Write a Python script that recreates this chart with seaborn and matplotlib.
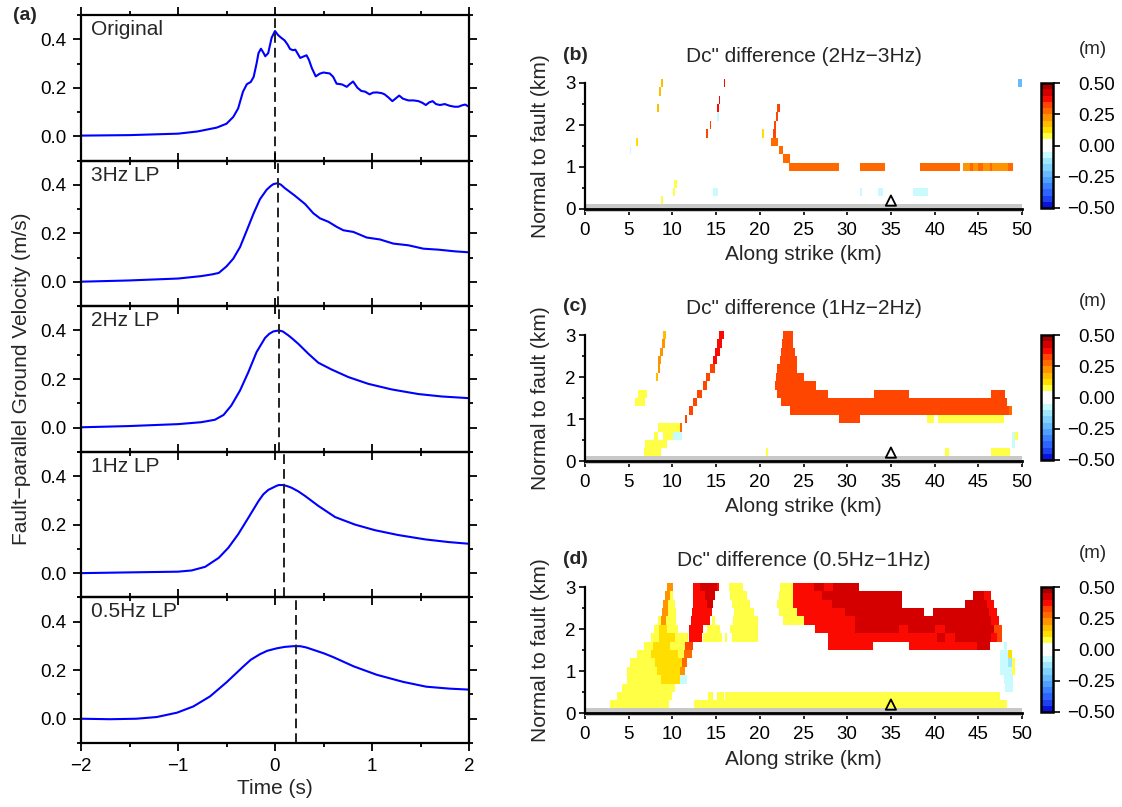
import numpy as np
import matplotlib
matplotlib.use('Agg')
import matplotlib.pyplot as plt
import seaborn as sns
from matplotlib.colors import ListedColormap, BoundaryNorm
from matplotlib.ticker import MultipleLocator, FixedLocator, FuncFormatter
import matplotlib.cm as cm

# ------------------------------------------------------------------ data
# (a) fault-parallel ground velocity traces (time s, velocity m/s)
t_orig = [-2.0, -1.5, -1.0, -0.8, -0.6, -0.5, -0.43, -0.38, -0.33, -0.29, -0.25, -0.22, -0.19,
          -0.17, -0.145, -0.12, -0.10, -0.07, -0.035, 0.0, 0.03, 0.055, 0.10, 0.13, 0.155, 0.185,
          0.21, 0.235, 0.26, 0.30, 0.325, 0.35, 0.38, 0.42, 0.46, 0.50, 0.565, 0.60, 0.635, 0.69,
          0.74, 0.77, 0.805, 0.85, 0.89, 0.93, 0.975, 1.01, 1.05, 1.10, 1.13, 1.17, 1.21, 1.25,
          1.28, 1.32, 1.375, 1.43, 1.48, 1.52, 1.555, 1.59, 1.625, 1.66, 1.70, 1.75, 1.80, 1.85,
          1.89, 1.93, 1.96, 2.0]
v_orig = [0.003, 0.005, 0.011, 0.020, 0.036, 0.052, 0.080, 0.115, 0.184, 0.215, 0.224, 0.245, 0.300,
          0.343, 0.361, 0.345, 0.330, 0.343, 0.406, 0.434, 0.418, 0.409, 0.395, 0.378, 0.360, 0.355,
          0.357, 0.340, 0.323, 0.330, 0.334, 0.315, 0.281, 0.247, 0.258, 0.263, 0.259, 0.245, 0.217, 0.214,
          0.204, 0.215, 0.226, 0.200, 0.187, 0.184, 0.173, 0.180, 0.181, 0.178, 0.173, 0.160, 0.145, 0.158,
          0.168, 0.155, 0.148, 0.148, 0.145, 0.138, 0.129, 0.140, 0.145, 0.133, 0.129, 0.133, 0.126, 0.122,
          0.122, 0.128, 0.131, 0.122]
t_3hz = [-2.0, -1.51, -1.0, -0.76, -0.65, -0.58, -0.5, -0.43, -0.36, -0.29, -0.22, -0.155, -0.086,
         -0.045, -0.017, 0.027, 0.06, 0.103, 0.15, 0.206, 0.31, 0.395, 0.464, 0.55, 0.636, 0.704,
         0.808, 0.945, 1.082, 1.22, 1.375, 1.53, 1.684, 1.856, 2.0]
v_3hz = [0.001, 0.006, 0.014, 0.024, 0.031, 0.037, 0.064, 0.096, 0.144, 0.213, 0.283, 0.341, 0.380,
         0.395, 0.403, 0.407, 0.401, 0.386, 0.372, 0.355, 0.321, 0.283, 0.262, 0.248, 0.227, 0.213,
         0.206, 0.183, 0.175, 0.158, 0.151, 0.137, 0.133, 0.126, 0.122]
t_2hz = [-2.0, -1.51, -1.0, -0.76, -0.62, -0.53, -0.45, -0.36, -0.275, -0.19, -0.103, -0.06, -0.017,
         0.04, 0.08, 0.137, 0.18, 0.24, 0.344, 0.447, 0.584, 0.756, 0.962, 1.203, 1.478, 1.718, 2.0]
v_2hz = [0.001, 0.006, 0.014, 0.022, 0.032, 0.052, 0.091, 0.153, 0.228, 0.311, 0.369, 0.386, 0.396,
         0.400, 0.396, 0.380, 0.366, 0.345, 0.304, 0.267, 0.239, 0.208, 0.180, 0.157, 0.138, 0.128, 0.121]
t_1hz = [-2.0, -1.51, -1.0, -0.86, -0.72, -0.58, -0.48, -0.38, -0.275, -0.17, -0.12, -0.069, 0.017,
         0.04, 0.086, 0.13, 0.17, 0.24, 0.31, 0.447, 0.62, 0.825, 1.03, 1.27, 1.55, 1.79, 2.0]
v_1hz = [0.0, 0.003, 0.006, 0.011, 0.026, 0.063, 0.105, 0.160, 0.228, 0.297, 0.325, 0.343, 0.360,
         0.363, 0.363, 0.358, 0.352, 0.337, 0.318, 0.277, 0.231, 0.200, 0.177, 0.157, 0.139, 0.128, 0.121]
t_05hz = [-2.0, -1.7, -1.43, -1.22, -1.01, -0.84, -0.67, -0.5, -0.33, -0.25, -0.155, -0.08, 0.017,
          0.10, 0.189, 0.258, 0.32, 0.395, 0.5, 0.6, 0.81, 1.05, 1.32, 1.56, 1.80, 2.0]
v_05hz = [0.0, -0.002, 0.0, 0.007, 0.025, 0.051, 0.092, 0.150, 0.214, 0.243, 0.266, 0.280, 0.290,
          0.296, 0.299, 0.299, 0.294, 0.284, 0.270, 0.254, 0.216, 0.181, 0.152, 0.132, 0.124, 0.120]
trace_names = ["Original", "3Hz LP", "2Hz LP", "1Hz LP", "0.5Hz LP"]
peak_times = [0.0, 0.028, 0.041, 0.096, 0.216]

# Dc'' difference maps: runs of constant value on rows of 0.2 km
# (row centre km, along-strike start km, end km, value m)
Y1, Y2, O1, O2, O3 = 0.07, 0.12, 0.17, 0.22, 0.27
R1, R2, R3 = 0.32, 0.37, 0.42
C1, C2, C3 = -0.07, -0.12, -0.22

runs_b = [
    (3.0, 8.7, 8.9, O1), (3.0, 15.85, 16.05, R2), (3.0, 49.5, 50.0, C3),
    (2.8, 8.5, 8.7, O1), (2.6, 15.3, 15.5, R2),
    (2.4, 8.25, 8.45, O1), (2.4, 15.1, 15.3, R2), (2.4, 22.0, 22.3, R1),
    (2.2, 15.1, 15.3, C1), (2.2, 21.8, 22.05, R1),
    (2.0, 14.25, 14.45, R1), (2.0, 21.6, 21.85, R1),
    (1.8, 13.85, 14.05, R1), (1.8, 20.3, 20.5, Y2), (1.8, 21.5, 21.8, R1),
    (1.6, 5.85, 6.05, Y2), (1.6, 21.25, 22.1, O3),
    (1.4, 5.1, 5.25, C1), (1.4, 22.15, 22.7, O3),
    (1.2, 22.7, 23.5, O3),
    (1.0, 23.3, 29.1, O3), (1.0, 31.5, 34.35, O3), (1.0, 38.3, 42.9, O3),
    (1.0, 43.2, 44.0, O2), (1.0, 44.0, 44.4, O3), (1.0, 44.4, 45.0, O2),
    (1.0, 45.0, 45.5, O3), (1.0, 45.5, 46.3, O2), (1.0, 46.3, 46.6, O3),
    (1.0, 46.6, 48.4, O2), (1.0, 48.4, 48.95, O3),
    (0.6, 10.2, 10.5, Y1),
    (0.4, 10.05, 10.3, Y1), (0.4, 14.65, 15.25, C1), (0.4, 31.45, 31.7, C1),
    (0.4, 33.5, 34.1, C1), (0.4, 37.5, 39.3, C1),
    (0.2, 8.7, 8.9, Y1),
]

runs_c = [
    (3.0, 8.9, 9.3, O1), (2.8, 8.8, 9.1, O2), (2.6, 8.6, 8.9, O2),
    (2.4, 8.4, 8.7, O2), (2.2, 8.3, 8.6, O2), (2.0, 8.1, 8.3, O1),
    (1.6, 6.1, 7.05, Y1), (1.4, 5.7, 6.9, Y1),
    (3.0, 15.35, 15.85, R2), (2.8, 15.15, 15.65, R2), (2.6, 14.9, 15.4, R2),
    (2.4, 14.6, 15.1, R2), (2.2, 14.25, 14.9, R1), (2.0, 13.85, 14.3, R1),
    (1.8, 13.45, 13.95, R1), (1.6, 12.85, 13.4, R1), (1.4, 12.3, 12.8, R1),
    (1.2, 11.85, 12.3, R1), (1.0, 11.45, 11.65, R1),
    (0.8, 8.4, 10.9, Y1), (0.8, 10.9, 11.1, O3),
    (0.6, 7.9, 8.3, Y1), (0.6, 8.95, 10.05, Y1), (0.6, 10.05, 11.05, C1),
    (0.4, 6.9, 9.4, Y1), (0.2, 6.7, 8.65, Y1), (0.2, 20.7, 20.9, Y1),
    (3.0, 22.7, 23.85, R1), (2.8, 22.5, 23.85, R1), (2.6, 22.4, 24.0, R1),
    (2.4, 22.3, 24.25, R1), (2.2, 21.95, 24.25, R1), (2.0, 21.9, 25.1, R1),
    (1.8, 21.7, 26.45, R1), (1.6, 21.95, 27.8, R1), (1.6, 33.1, 37.1, R1),
    (1.6, 46.4, 48.1, R1), (1.4, 22.4, 48.3, R1), (1.2, 23.5, 48.5, R1),
    (1.2, 48.5, 48.8, O3), (1.0, 29.1, 31.5, R1),
    (1.0, 39.1, 39.9, Y1), (1.0, 40.35, 47.9, Y1),
    (0.6, 48.8, 49.25, C1), (0.6, 49.25, 49.5, Y1), (0.4, 48.8, 49.25, C1),
    (0.2, 41.15, 41.7, Y1), (0.2, 46.4, 48.65, Y1),
]

runs_d = [
    # left triangle
    (0.2, 2.85, 9.65, Y1), (0.4, 3.7, 9.9, Y1), (0.6, 4.2, 10.3, Y1),
    (0.8, 4.75, 8.7, Y1), (0.8, 8.7, 10.9, Y2), (0.8, 10.9, 11.65, C1),
    (1.0, 4.75, 8.2, Y1), (1.0, 8.2, 10.9, Y2), (1.0, 10.9, 11.45, O2),
    (1.2, 5.15, 8.0, Y1), (1.2, 8.0, 11.05, Y2), (1.2, 11.05, 11.65, O3),
    (1.4, 5.9, 7.6, Y1), (1.4, 7.6, 10.6, Y2), (1.4, 10.6, 11.3, Y1), (1.4, 11.3, 12.2, O3),
    (1.6, 6.7, 7.8, Y1), (1.6, 7.8, 9.75, Y2), (1.6, 9.75, 11.45, Y1), (1.6, 11.45, 12.4, R1),
    (1.8, 7.6, 8.5, Y1), (1.8, 8.5, 10.3, Y2), (1.8, 10.3, 11.8, Y1),
    (2.0, 7.9, 8.5, Y1), (2.0, 8.5, 9.4, Y2), (2.0, 9.4, 10.6, Y1),
    (2.2, 8.3, 8.7, Y1), (2.2, 8.7, 9.3, O2), (2.2, 9.3, 10.4, Y1),
    (2.4, 8.8, 9.45, O2), (2.4, 9.45, 10.4, Y1),
    (2.6, 8.95, 9.55, O2), (2.6, 9.55, 10.3, Y1),
    (2.8, 9.15, 9.75, O2), (2.8, 9.75, 10.1, Y1),
    (3.0, 9.35, 10.05, O2),
    # red band 12-15 km
    (3.0, 12.35, 13.2, R2), (3.0, 13.2, 15.1, R3), (3.0, 15.1, 15.3, R2),
    (2.8, 12.4, 13.75, R2), (2.8, 13.75, 14.9, R3),
    (2.6, 12.4, 13.95, R2), (2.6, 13.95, 14.7, R3),
    (2.4, 12.2, 14.5, R2), (2.2, 12.1, 14.3, R2),
    (2.0, 11.95, 13.55, R2), (1.8, 11.85, 13.35, R2),
    (2.2, 14.5, 14.9, Y1), (2.0, 14.0, 15.5, Y1), (1.8, 13.5, 15.65, Y1), (1.8, 16.0, 16.2, Y1),
    # yellow 16-20 km
    (3.0, 16.5, 18.1, Y1), (2.8, 16.6, 18.5, Y1), (2.6, 16.8, 18.9, Y1),
    (2.4, 17.0, 19.3, Y1), (2.2, 16.9, 19.85, Y1), (2.0, 16.6, 19.85, Y1),
    (1.8, 16.8, 19.85, Y1),
    # yellow 22-24 km
    (3.0, 22.3, 23.85, Y1), (2.8, 22.15, 23.85, Y1), (2.6, 21.95, 23.85, Y1),
    (2.4, 22.15, 24.25, Y1), (2.2, 22.7, 25.0, Y1),
    # big red blob
    (3.0, 23.85, 26.15, R2), (3.0, 26.15, 27.3, R3), (3.0, 27.3, 28.4, R2), (3.0, 28.4, 31.3, R3),
    (2.8, 23.85, 27.1, R2), (2.8, 27.1, 36.25, R3), (2.8, 44.45, 45.6, R3), (2.8, 45.6, 46.4, R2),
    (2.6, 23.85, 28.25, R2), (2.6, 28.25, 36.25, R3), (2.6, 43.5, 46.0, R3), (2.6, 46.0, 46.75, R2),
    (2.4, 24.25, 29.8, R2), (2.4, 29.8, 38.75, R3), (2.4, 39.85, 46.2, R3), (2.4, 46.2, 47.15, R2),
    (2.2, 25.0, 30.9, R2), (2.2, 30.9, 46.4, R3), (2.2, 46.4, 47.35, R2),
    (2.0, 26.3, 30.9, R2), (2.0, 30.9, 35.9, R3), (2.0, 35.9, 37.0, R2), (2.0, 37.0, 40.1, R3),
    (2.0, 40.1, 41.2, R2), (2.0, 41.2, 46.75, R3), (2.0, 46.75, 47.7, R1),
    (1.8, 27.85, 40.25, R2), (1.8, 40.25, 41.2, R3), (1.8, 41.2, 42.35, R2),
    (1.8, 42.35, 46.4, R3), (1.8, 46.4, 47.1, R2), (1.8, 47.1, 47.7, R1),
    (1.6, 27.85, 33.0, R2), (1.6, 37.1, 44.85, R2), (1.6, 44.85, 46.3, R3),
    # right edge
    (1.6, 47.9, 48.3, C1), (1.4, 47.5, 48.35, C1), (1.4, 48.35, 48.85, Y2),
    (1.2, 47.5, 48.4, C1), (1.2, 48.4, 48.85, C2), (1.2, 48.85, 49.25, Y1),
    (1.0, 47.5, 48.9, C1), (1.0, 48.9, 49.25, Y1),
    (0.8, 47.9, 49.0, C1), (0.6, 48.1, 49.0, C1),
    # bottom band
    (0.4, 14.1, 14.6, Y1), (0.4, 15.1, 15.85, Y1), (0.4, 16.05, 47.5, Y1),
    (0.2, 12.5, 48.3, Y1),
]
map_titles = ["Dc\" difference (2Hz\u22123Hz)", "Dc\" difference (1Hz\u22122Hz)",
              "Dc\" difference (0.5Hz\u22121Hz)"]
map_letters = ["(b)", "(c)", "(d)"]
station_x, station_y = [35.0], [0.2]

# colour palette (20 discrete levels from -0.5 to 0.5 m)
cpt = [(10, 20, 215), (30, 65, 240), (45, 100, 255), (60, 130, 255), (80, 160, 255),
       (105, 185, 255), (130, 210, 255), (160, 230, 255), (200, 250, 255), (255, 255, 255),
       (255, 255, 255), (255, 255, 70), (255, 222, 0), (255, 188, 0), (255, 148, 0),
       (255, 105, 0), (255, 70, 0), (250, 10, 0), (212, 0, 0), (165, 0, 0)]

# ------------------------------------------------------------------ style
sns.set_theme(style='ticks')
plt.rcParams['font.family'] = ['Liberation Sans', 'DejaVu Sans']
plt.rcParams['axes.unicode_minus'] = True

W, H = 1122, 807
fig = plt.figure(figsize=(W / 100, H / 100), dpi=100)
fig.patch.set_facecolor('white')


def rect(x0, y0, x1, y1):
    return [x0 / W, 1 - y1 / H, (x1 - x0) / W, (y1 - y0) / H]


def ftext(x, y, s, **kw):
    fig.text(x / W, 1 - y / H, s, **kw)


TICK = 13.5
LAB = 15

# ------------------------------------------------------------------ (a)
series = [(t_orig, v_orig), (t_3hz, v_3hz), (t_2hz, v_2hz), (t_1hz, v_1hz), (t_05hz, v_05hz)]
ph = 145.6
for i, ((tt, vv), name, tp) in enumerate(zip(series, trace_names, peak_times)):
    ax = fig.add_axes(rect(81, 15 + ph * i, 469, 15 + ph * (i + 1)))
    ax.set_facecolor('none')
    sns.lineplot(x=tt, y=vv, ax=ax, color='#0000ff', lw=1.5, sort=False)
    ax.axvline(tp, color='#222222', lw=1.4, dashes=(5, 2.6))
    ax.set_xlim(-2, 2)
    ax.set_ylim(-0.1, 0.5)
    ax.xaxis.set_major_locator(MultipleLocator(1))
    ax.xaxis.set_minor_locator(FixedLocator([-1.5, -0.5, 0.5, 1.5]))
    ax.yaxis.set_major_locator(FixedLocator([0.0, 0.2, 0.4]))
    ax.yaxis.set_minor_locator(FixedLocator([-0.1, 0.1, 0.3, 0.5]))
    ax.yaxis.set_major_formatter(FuncFormatter(lambda v, p: f"{v:.1f}"))
    ax.tick_params(which='both', direction='out', top=True, right=True, width=1.3,
                   colors='black', labelsize=TICK)
    ax.tick_params(which='major', length=5.5, pad=5)
    ax.tick_params(which='minor', length=3)
    for s in ax.spines.values():
        s.set_linewidth(1.6)
        s.set_color('black')
    if i < 4:
        ax.tick_params(labelbottom=False)
    ax.set_xlabel('')
    ax.set_ylabel('')
    ax.text(0.026, 0.9, name, transform=ax.transAxes, fontsize=LAB, ha='left', va='center')

ftext(13, 15.5, '(a)', fontsize=14, fontweight='bold', ha='left', va='center')
ftext(22, 379, 'Fault\u2212parallel Ground Velocity (m/s)', fontsize=LAB, rotation=90,
      ha='center', va='center')
ftext(275, 789, 'Time (s)', fontsize=LAB, ha='center', va='center')

# ------------------------------------------------------------------ (b)-(d)
cmap = ListedColormap([tuple(c / 255 for c in col) for col in cpt])
bounds = np.linspace(-0.5, 0.5, 21)
norm = BoundaryNorm(bounds, cmap.N)

XE = np.linspace(0, 50, 1001)
YE = np.linspace(-0.1, 3.1, 17)
XC = 0.5 * (XE[:-1] + XE[1:])


def make_grid(runs):
    Z = np.full((16, 1000), np.nan)
    for y, x0, x1, v in runs:
        r = int(round(y / 0.2))
        Z[r, (XC >= x0) & (XC < x1)] = v
    return np.ma.masked_invalid(Z)


for k, (runs, title, letter) in enumerate(zip([runs_b, runs_c, runs_d], map_titles, map_letters)):
    y3 = [83, 335, 587][k]
    y0 = y3 + 126
    ax = fig.add_axes(rect(585, y3 - 4.2, 1022, y0 + 4.2))
    ax.set_facecolor('none')
    Z = make_grid(runs)
    ax.pcolormesh(XE, YE, Z, cmap=cmap, norm=norm, shading='flat', edgecolors='face',
                  linewidth=0, zorder=1)
    ax.axhspan(-0.07, 0.11, color='#c8c8c8', zorder=2, lw=0)
    sns.scatterplot(x=station_x, y=station_y, ax=ax, marker='^', s=55, facecolor='none',
                    edgecolor='black', linewidth=1.3, zorder=4)
    ax.set_xlim(0, 50)
    ax.set_ylim(-0.1, 3.1)
    ax.spines['top'].set_visible(False)
    ax.spines['right'].set_visible(False)
    ax.spines['left'].set_bounds(0, 3)
    ax.spines['bottom'].set_position(('data', 0))
    ax.spines['left'].set_linewidth(1.6)
    ax.spines['bottom'].set_linewidth(2.0)
    for s in ('left', 'bottom'):
        ax.spines[s].set_color('black')
        ax.spines[s].set_zorder(5)
    ax.xaxis.set_major_locator(MultipleLocator(5))
    ax.xaxis.set_minor_locator(MultipleLocator(1))
    ax.yaxis.set_major_locator(FixedLocator([0, 1, 2, 3]))
    ax.yaxis.set_minor_locator(FixedLocator([0.5, 1.5, 2.5]))
    ax.tick_params(which='both', direction='out', width=1.2, colors='black', labelsize=TICK)
    ax.tick_params(which='major', length=4.5)
    ax.tick_params(axis='x', which='major', pad=5)
    ax.tick_params(axis='y', which='major', pad=2)
    ax.tick_params(which='minor', length=2.5)
    ax.set_xlabel('Along strike (km)', fontsize=LAB)
    ax.set_ylabel('Normal to fault (km)', fontsize=LAB)
    ax.xaxis.set_label_coords(0.5, (4.2 - 46) / 134.4)
    ax.xaxis.label.set_va('center')
    ax.yaxis.set_label_coords((541 - 585) / 437, 0.5)
    ax.yaxis.label.set_va('center')

    ftext(563, y3 - 28, letter, fontsize=14, fontweight='bold', ha='left', va='center')
    ftext(803.5, y3 - 26, title, fontsize=LAB, ha='center', va='center')
    ftext(1093, y3 - 33, '(m)', fontsize=TICK, ha='center', va='center')

    cax = fig.add_axes(rect(1041, y3, 1053, y3 + 125))
    cb = fig.colorbar(cm.ScalarMappable(norm=norm, cmap=cmap), cax=cax,
                      ticks=[-0.5, -0.25, 0.0, 0.25, 0.5], spacing='proportional')
    cb.outline.set_linewidth(1.8)
    cb.outline.set_edgecolor('black')
    cb.ax.yaxis.set_major_formatter(FuncFormatter(lambda v, p: f"{v:.2f}".replace('-', '\u2212')))
    cb.ax.minorticks_off()
    cb.ax.tick_params(length=5, width=1.2, colors='black', labelsize=TICK, pad=39.5)
    for lab in cb.ax.get_yticklabels():
        lab.set_horizontalalignment('right')

fig.savefig('out.png', dpi=100, facecolor='white')
